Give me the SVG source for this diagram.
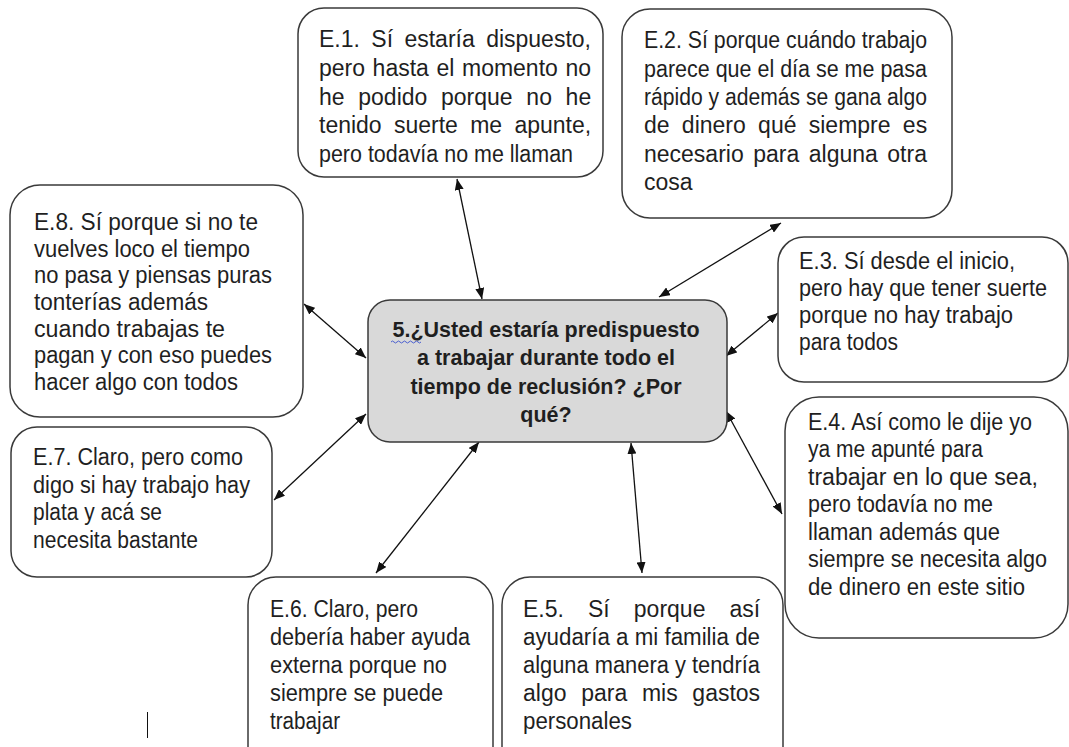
<svg xmlns="http://www.w3.org/2000/svg" width="1069" height="747" viewBox="0 0 1069 747">
<style>
.box{fill:#fff;stroke:#3a3a3a;stroke-width:1.5}
.center{fill:#d9d9d9;stroke:#3a3a3a;stroke-width:1.5}
.t{font-family:"Liberation Sans",Arial,sans-serif;font-size:23px;fill:#1f1f1f}
.c{font-family:"Liberation Sans",Arial,sans-serif;font-size:21.5px;font-weight:bold;fill:#1f1f1f;text-anchor:middle}
.conn line{stroke:#111;stroke-width:1.3;marker-start:url(#ah);marker-end:url(#ah)}
</style>
<defs>
<marker id="ah" markerUnits="userSpaceOnUse" markerWidth="11" markerHeight="9" refX="11" refY="4.5" orient="auto-start-reverse">
<path d="M0,0 L11,4.5 L0,9 z" fill="#111"/>
</marker>
</defs>
<rect width="1069" height="747" fill="#fff"/>

<g id="connectors" class="conn">
<line x1="457" y1="179" x2="482" y2="299"/>
<line x1="781" y1="223" x2="659" y2="297"/>
<line x1="304" y1="304" x2="366" y2="358"/>
<line x1="366" y1="414" x2="274" y2="500"/>
<line x1="778" y1="313" x2="726" y2="356"/>
<line x1="726" y1="411" x2="782" y2="514"/>
<line x1="376" y1="573" x2="479" y2="442"/>
<line x1="642" y1="573" x2="631" y2="443"/>
</g>

<g id="center">
<rect class="center" x="368" y="300" width="359" height="142" rx="22"/>
<text class="c" x="546" y="337">5.¿Usted estaría predispuesto</text>
<text class="c" x="546" y="365">a trabajar durante todo el</text>
<text class="c" x="546" y="394">tiempo de reclusión? ¿Por</text>
<text class="c" x="546" y="422">qué?</text>
<path d="M391,342 q1.5,-2 3,0 t3,0 t3,0 t3,0 t3,0 t3,0 t3,0 t3,0 t3,0 t3,0" fill="none" stroke="#4a5fd0" stroke-width="1"/>
</g>

<g id="e1">
<rect class="box" x="298" y="8" width="305" height="169" rx="26"/>
<text class="t" x="319" y="47" style="word-spacing:5px">E.1. Sí estaría dispuesto,</text>
<text class="t" x="319" y="76" style="word-spacing:1.2px">pero hasta el momento no</text>
<text class="t" x="319" y="105" style="word-spacing:7.3px">he podido porque no he</text>
<text class="t" x="319" y="133" style="word-spacing:5.9px">tenido suerte me apunte,</text>
<text class="t" x="319" y="162" textLength="254" lengthAdjust="spacingAndGlyphs">pero todavía no me llaman</text>
</g>

<g id="e2">
<rect class="box" x="622" y="9" width="330" height="209" rx="28"/>
<text class="t" x="644" y="48" textLength="283" lengthAdjust="spacingAndGlyphs">E.2. Sí porque cuándo trabajo</text>
<text class="t" x="644" y="77" textLength="283" lengthAdjust="spacingAndGlyphs">parece que el día se me pasa</text>
<text class="t" x="644" y="105" textLength="283" lengthAdjust="spacingAndGlyphs">rápido y además se gana algo</text>
<text class="t" x="644" y="133" style="word-spacing:5.9px">de dinero qué siempre es</text>
<text class="t" x="644" y="162" style="word-spacing:3.1px">necesario para alguna otra</text>
<text class="t" x="644" y="190">cosa</text>
</g>

<g id="e8">
<rect class="box" x="10" y="185" width="293" height="232" rx="30"/>
<text class="t" x="34" y="230" textLength="224" lengthAdjust="spacingAndGlyphs">E.8. Sí porque si no te</text>
<text class="t" x="34" y="257" textLength="216" lengthAdjust="spacingAndGlyphs">vuelves loco el tiempo</text>
<text class="t" x="34" y="283" textLength="238" lengthAdjust="spacingAndGlyphs">no pasa y piensas puras</text>
<text class="t" x="34" y="310" textLength="174" lengthAdjust="spacingAndGlyphs">tonterías además</text>
<text class="t" x="34" y="337" textLength="191" lengthAdjust="spacingAndGlyphs">cuando trabajas te</text>
<text class="t" x="34" y="363" textLength="238" lengthAdjust="spacingAndGlyphs">pagan y con eso puedes</text>
<text class="t" x="34" y="390" textLength="204" lengthAdjust="spacingAndGlyphs">hacer algo con todos</text>
</g>

<g id="e3">
<rect class="box" x="778" y="237" width="290" height="145" rx="26"/>
<text class="t" x="799" y="269" textLength="216" lengthAdjust="spacingAndGlyphs">E.3. Sí desde el inicio,</text>
<text class="t" x="799" y="296" textLength="248" lengthAdjust="spacingAndGlyphs">pero hay que tener suerte</text>
<text class="t" x="799" y="323" textLength="214" lengthAdjust="spacingAndGlyphs">porque no hay trabajo</text>
<text class="t" x="799" y="350" textLength="99" lengthAdjust="spacingAndGlyphs">para todos</text>
</g>

<g id="e4">
<rect class="box" x="785" y="397" width="283" height="241" rx="34"/>
<text class="t" x="808" y="430" textLength="224" lengthAdjust="spacingAndGlyphs">E.4. Así como le dije yo</text>
<text class="t" x="808" y="457" textLength="175" lengthAdjust="spacingAndGlyphs">ya me apunté para</text>
<text class="t" x="808" y="485" textLength="230" lengthAdjust="spacingAndGlyphs">trabajar en lo que sea,</text>
<text class="t" x="808" y="512" textLength="185" lengthAdjust="spacingAndGlyphs">pero todavía no me</text>
<text class="t" x="808" y="540" textLength="192" lengthAdjust="spacingAndGlyphs">llaman además que</text>
<text class="t" x="808" y="567" textLength="239" lengthAdjust="spacingAndGlyphs">siempre se necesita algo</text>
<text class="t" x="808" y="595" textLength="217" lengthAdjust="spacingAndGlyphs">de dinero en este sitio</text>
</g>

<g id="e7">
<rect class="box" x="11" y="427" width="261" height="150" rx="26"/>
<text class="t" x="33" y="465" textLength="210" lengthAdjust="spacingAndGlyphs">E.7. Claro, pero como</text>
<text class="t" x="33" y="493" textLength="217" lengthAdjust="spacingAndGlyphs">digo si hay trabajo hay</text>
<text class="t" x="33" y="520" textLength="129" lengthAdjust="spacingAndGlyphs">plata y acá se</text>
<text class="t" x="33" y="548" textLength="165" lengthAdjust="spacingAndGlyphs">necesita bastante</text>
</g>

<g id="e6">
<rect class="box" x="248" y="577" width="245" height="200" rx="28"/>
<text class="t" x="270" y="617" textLength="148" lengthAdjust="spacingAndGlyphs">E.6. Claro, pero</text>
<text class="t" x="270" y="645" textLength="200" lengthAdjust="spacingAndGlyphs">debería haber ayuda</text>
<text class="t" x="270" y="673" textLength="177" lengthAdjust="spacingAndGlyphs">externa porque no</text>
<text class="t" x="270" y="701" textLength="173" lengthAdjust="spacingAndGlyphs">siempre se puede</text>
<text class="t" x="270" y="729" textLength="70" lengthAdjust="spacingAndGlyphs">trabajar</text>
</g>

<g id="e5">
<rect class="box" x="502" y="577" width="281" height="200" rx="28"/>
<text class="t" x="523" y="617" style="word-spacing:17.7px">E.5. Sí porque así</text>
<text class="t" x="523" y="645" textLength="237" lengthAdjust="spacingAndGlyphs">ayudaría a mi familia de</text>
<text class="t" x="523" y="673" textLength="237" lengthAdjust="spacingAndGlyphs">alguna manera y tendría</text>
<text class="t" x="523" y="701" style="word-spacing:8.3px">algo para mis gastos</text>
<text class="t" x="523" y="729" textLength="109" lengthAdjust="spacingAndGlyphs">personales</text>
</g>

<line x1="147.5" y1="712" x2="147.5" y2="738" stroke="#111" stroke-width="1"/>
</svg>
